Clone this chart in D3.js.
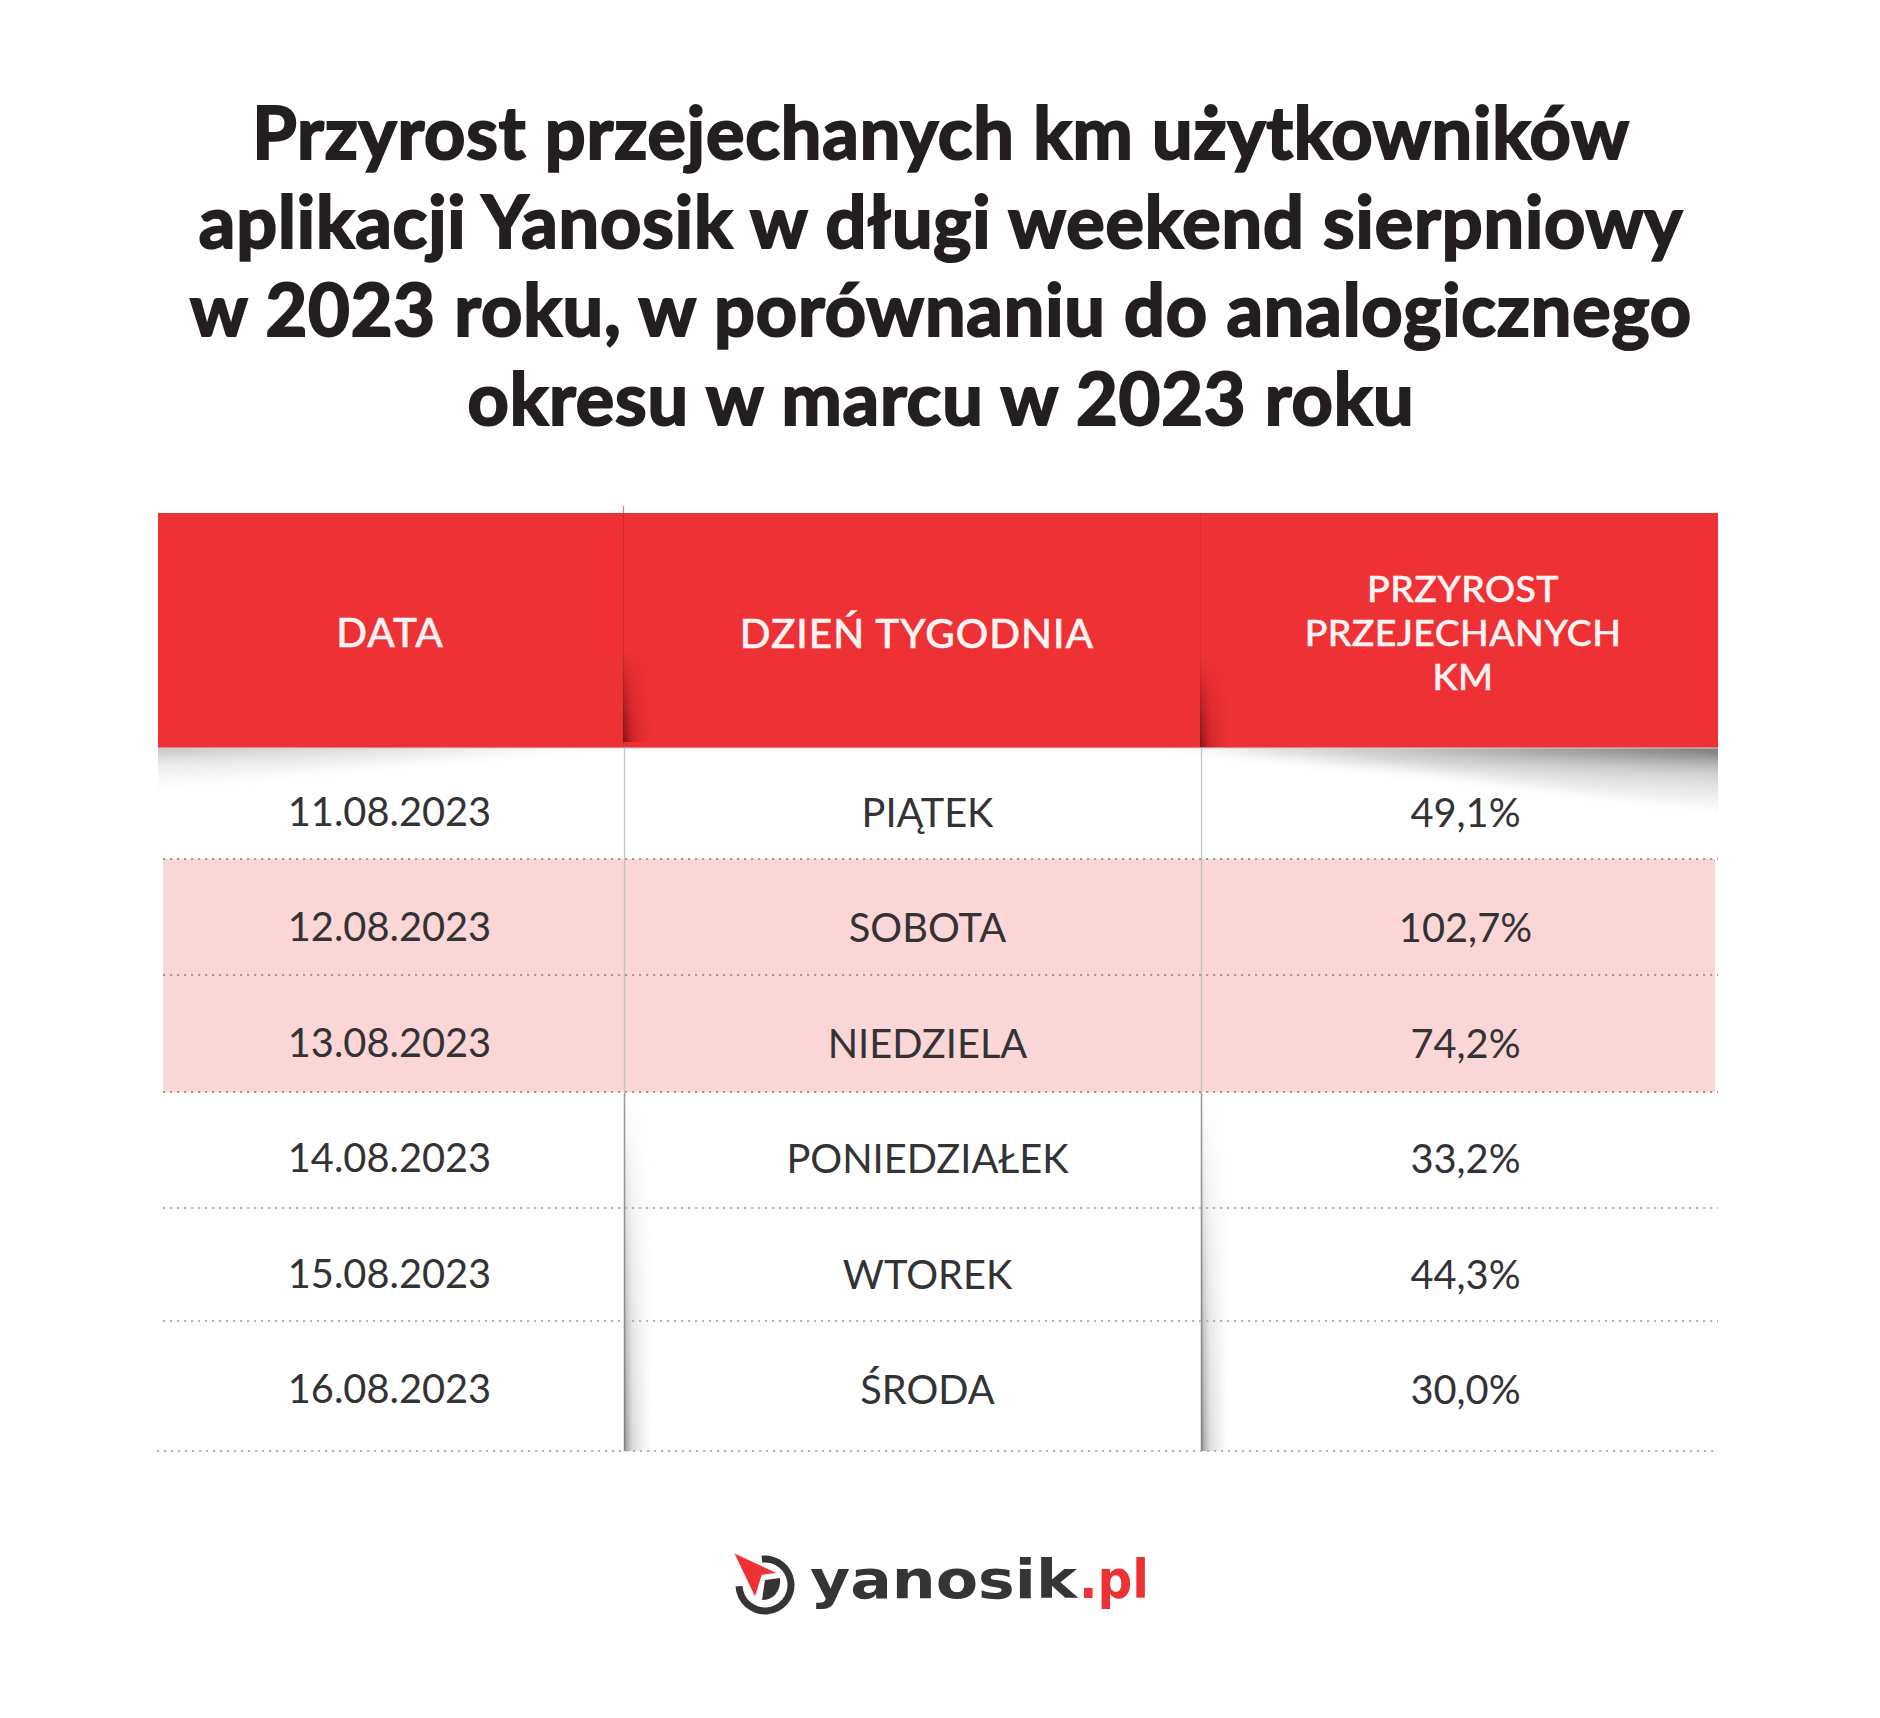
<!doctype html>
<html lang="pl">
<head>
<meta charset="utf-8">
<title>Przyrost przejechanych km</title>
<script src="https://d3js.org/d3.v7.min.js"></script>
<style>
  html, body { margin: 0; background: #fff; }
  svg { display: block; }
  text { font-family: Lato, sans-serif; }
</style>
</head>
<body>
<div id="chart"></div>
<script>
// data
var titleLines = [
  "Przyrost przejechanych km użytkowników",
  "aplikacji Yanosik w długi weekend sierpniowy",
  "w 2023 roku, w porównaniu do analogicznego",
  "okresu w marcu w 2023 roku"
];
var dates = ["11.08.2023", "12.08.2023", "13.08.2023", "14.08.2023", "15.08.2023", "16.08.2023"];
var days = ["PIĄTEK", "SOBOTA", "NIEDZIELA", "PONIEDZIAŁEK", "WTOREK", "ŚRODA"];
var growth = [49.1, 102.7, 74.2, 33.2, 44.3, 30.0];
var highlighted = ["12.08.2023", "13.08.2023"];

var width = 1880, height = 1718;
var red = "#ee3135", pink = "#fbd6d6", ink = "#333335";

var svg = d3.select("#chart").append("svg")
    .attr("width", width)
    .attr("height", height);
var defs = svg.append("defs");

function gradient(id, x2, y2, stops) {
  var g = defs.append("linearGradient").attr("id", id)
      .attr("x1", 0).attr("y1", 0).attr("x2", x2).attr("y2", y2);
  stops.forEach(function(s) {
    g.append("stop").attr("offset", s[0]).attr("stop-color", s[1]).attr("stop-opacity", s[2]);
  });
}
gradient("shadeDown", 0, 1, [[0, "#333", 0.9], [0.45, "#888", 0.38], [1, "#aaa", 0]]);
gradient("shadeDownLight", 0, 1, [[0, "#666", 0.55], [0.5, "#999", 0.18], [1, "#aaa", 0]]);
gradient("shadeRight", 1, 0, [[0, "#777", 0.85], [0.3, "#aaa", 0.45], [1, "#ccc", 0]]);
gradient("shadeRed", 1, 0, [[0, "#6e0f13", 0.85], [0.4, "#a3161b", 0.35], [1, "#b3151b", 0]]);
gradient("maskUp", 0, 1, [[0, "#fff", 0], [1, "#fff", 1]]);
gradient("maskLeft", 1, 0, [[0, "#fff", 1], [1, "#fff", 0]]);
gradient("maskRight", 1, 0, [[0, "#fff", 0], [1, "#fff", 1]]);
defs.append("mask").attr("id", "foldMask").attr("maskContentUnits", "objectBoundingBox")
  .append("rect").attr("width", 1).attr("height", 1).attr("fill", "url(#maskUp)");
defs.append("mask").attr("id", "wedgeLeft").attr("maskUnits", "userSpaceOnUse")
    .attr("x", 0).attr("y", 700).attr("width", width).attr("height", 160)
  .append("rect").attr("x", 158).attr("y", 700).attr("width", 460).attr("height", 160).attr("fill", "url(#maskLeft)");
defs.append("mask").attr("id", "wedgeRight").attr("maskUnits", "userSpaceOnUse")
    .attr("x", 0).attr("y", 700).attr("width", width).attr("height", 160)
  .append("rect").attr("x", 1140).attr("y", 700).attr("width", 578).attr("height", 160).attr("fill", "url(#maskRight)");
defs.append("filter").attr("id", "soft")
    .attr("x", "-10%").attr("y", "-30%").attr("width", "120%").attr("height", "160%")
  .append("feGaussianBlur").attr("stdDeviation", 6);

// title, no black cut of Lato here so a thin stroke thickens it
svg.append("g").selectAll("text")
  .data(titleLines)
  .join("text")
    .attr("x", 941)
    .attr("y", function(d, i) { return 159 + i * 88.5; })
    .attr("text-anchor", "middle")
    .attr("font-size", 72)
    .attr("font-weight", 700)
    .attr("letter-spacing", 0.85)
    .attr("fill", "#231f20")
    .attr("stroke", "#231f20")
    .attr("stroke-width", 2.1)
    .text(function(d) { return d; });

// table layout
var x0 = 158, x1 = 623, x2 = 1200, x3 = 1718;
var headTop = 513, headBottom = 748;
var rowLines = [859, 975, 1092, 1208, 1321, 1451];

var yBase = d3.scalePoint().domain(dates).range([826, 1403]);
var fmt = function(v) { return v.toFixed(1).replace(".", ",") + "%"; };

// pink rows
svg.append("g").selectAll("rect")
  .data(highlighted)
  .join("rect")
    .attr("x", 163)
    .attr("width", 1552)
    .attr("y", function(d) { return rowLines[dates.indexOf(d) - 1]; })
    .attr("height", function(d) { var i = dates.indexOf(d); return rowLines[i] - rowLines[i - 1]; })
    .attr("fill", pink);

// shadow under the header, a wedge at each end
svg.append("g").attr("mask", "url(#wedgeLeft)")
  .append("path")
    .attr("d", "M" + (x0 - 40) + "," + (headBottom - 8) + "L" + (x0 + 520) + "," + (headBottom - 8) + "L" + (x0 + 260) + "," + (headBottom + 12) + "L" + (x0 - 40) + "," + (headBottom + 42) + "Z")
    .attr("fill", "url(#shadeDownLight)")
    .attr("filter", "url(#soft)");
svg.append("g").attr("mask", "url(#wedgeRight)")
  .append("path")
    .attr("d", "M" + (x3 + 40) + "," + (headBottom - 8) + "L" + (x3 - 620) + "," + (headBottom - 8) + "L" + (x3 - 300) + "," + (headBottom + 22) + "L" + (x3 + 40) + "," + (headBottom + 66) + "Z")
    .attr("fill", "url(#shadeDown)")
    .attr("filter", "url(#soft)");
svg.append("rect").attr("x", 0).attr("width", x0).attr("y", headBottom - 60).attr("height", 170).attr("fill", "#fff");
svg.append("rect").attr("x", x3).attr("width", 162).attr("y", headBottom - 60).attr("height", 170).attr("fill", "#fff");

// red header
svg.append("rect")
    .attr("x", x0).attr("y", headTop)
    .attr("width", x3 - x0).attr("height", headBottom - headTop)
    .attr("fill", red);
svg.append("line")
    .attr("x1", x0).attr("x2", x3).attr("y1", headBottom).attr("y2", headBottom)
    .attr("stroke", "#d9d0d0").attr("stroke-width", 1);

// folds in the header and at the foot of the table
[x1, x2].forEach(function(x, i) {
  svg.append("line").attr("x1", x + 0.5).attr("x2", x + 0.5).attr("y1", i === 0 ? 506 : headTop).attr("y2", 747)
      .attr("stroke", i === 0 ? "#b8272c" : "#cf2a2e").attr("stroke-opacity", 0.6).attr("stroke-width", 1.2);
  svg.append("g").attr("mask", "url(#foldMask)")
    .append("rect").attr("x", x).attr("y", i === 0 ? 650 : 660).attr("width", 28).attr("height", i === 0 ? 92 : 87).attr("fill", "url(#shadeRed)");
  svg.append("line").attr("x1", x + 1.5).attr("x2", x + 1.5).attr("y1", 748).attr("y2", 1093)
      .attr("stroke", "#c4c4c4").attr("stroke-width", 1.3);
  svg.append("line").attr("x1", x + 1.5).attr("x2", x + 1.5).attr("y1", 1093).attr("y2", 1451)
      .attr("stroke", "#9c9c9c").attr("stroke-width", 1.6);
  svg.append("g").attr("mask", "url(#foldMask)")
    .append("rect").attr("x", x + 1).attr("y", 1095).attr("width", 28).attr("height", 356).attr("fill", "url(#shadeRight)");
});

// dotted rules
svg.append("g").selectAll("line")
  .data(rowLines)
  .join("line")
    .attr("x1", function(d, i) { return i === 5 ? 157 : 163; })
    .attr("x2", function(d, i) { return i === 5 ? 1714 : 1718; })
    .attr("y1", function(d) { return d; })
    .attr("y2", function(d) { return d; })
    .attr("stroke", function(d, i) { return i < 3 ? "#a09a9a" : "#b4b4b4"; })
    .attr("stroke-width", 2.2)
    .attr("stroke-dasharray", "2.2 4.8");

// header labels
function headerCell(lines, cx, baselines, size, spacing) {
  svg.append("g").selectAll("text")
    .data(lines)
    .join("text")
      .attr("x", cx)
      .attr("y", function(d, i) { return baselines[i]; })
      .attr("text-anchor", "middle")
      .attr("font-size", size)
      .attr("font-weight", 500)
      .attr("letter-spacing", spacing)
      .attr("fill", "#fdf3f3")
      .attr("stroke", "#fdf3f3")
      .attr("stroke-width", 0.5)
      .text(function(d) { return d; });
}
headerCell(["DATA"], 390, [647], 40.5, 1);
headerCell(["DZIEŃ TYGODNIA"], 917, [648], 40.5, 1);
headerCell(["PRZYROST", "PRZEJECHANYCH", "KM"], 1463, [602, 646, 690], 37.5, 0.4);

// table body
function column(values, cx, dy, label) {
  svg.append("g").selectAll("text")
    .data(values)
    .join("text")
      .attr("x", cx)
      .attr("y", function(d, i) { return yBase(dates[i]) + dy; })
      .attr("text-anchor", "middle")
      .attr("font-size", 39.8)
      .attr("fill", ink)
      .text(label);
}
column(dates, 389.5, 0, function(d) { return d; });
column(days, 927.5, 1, function(d) { return d; });
column(growth, 1465.5, 1, fmt);

// logo
var logo = svg.append("g").attr("transform", "translate(765,1585)");
var ring = d3.arc().innerRadius(22.5).outerRadius(29.5)
    .startAngle(-0.12).endAngle(2 * Math.PI - 1.62);
logo.append("path").attr("d", ring()).attr("fill", "#353535");
logo.append("path")
    .attr("d", "M0,-5 L15,-7 Q16,3 10,10 Q5,15 -3,15 Z")
    .attr("fill", "#353535");
logo.append("path")
    .attr("d", "M-31,-32 L12,-12 L-3,-10 L-10,12 Z")
    .attr("fill", red)
    .attr("stroke", "#fff")
    .attr("stroke-width", 0.5);

svg.append("text")
    .attr("x", 810).attr("y", 1598)
    .attr("textLength", 267).attr("lengthAdjust", "spacingAndGlyphs")
    .style("font-family", "'DejaVu Sans', sans-serif")
    .attr("font-size", 54)
    .attr("font-weight", 700)
    .attr("fill", "#353535")
    .text("yanosik");
svg.append("text")
    .attr("x", 1079).attr("y", 1598)
    .attr("textLength", 70).attr("lengthAdjust", "spacingAndGlyphs")
    .style("font-family", "'DejaVu Sans', sans-serif")
    .attr("font-size", 54)
    .attr("font-weight", 700)
    .attr("fill", red)
    .text(".pl");
</script>
</body>
</html>
